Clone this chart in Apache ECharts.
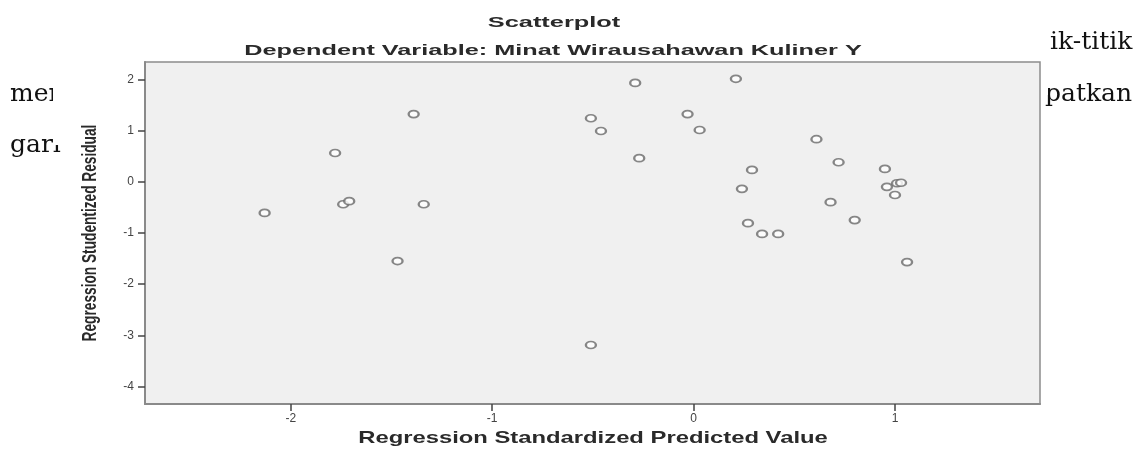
<!DOCTYPE html>
<html>
<head>
<meta charset="utf-8">
<script src="https://cdn.jsdelivr.net/npm/echarts@6/dist/echarts.min.js"></script>
<style>
  html, body { margin: 0; padding: 0; background: #fff; }
  #chart { width: 1148px; height: 449px; }
</style>
</head>
<body>
<div id="chart"></div>
<script>
// Regression Standardized Predicted Value (x) / Regression Studentized Residual (y)
const predicted = [
  -2.13, -1.78, -1.74, -1.71, -1.47, -1.39, -1.34,
  -0.51, -0.51, -0.46, -0.29, -0.27, -0.03, 0.03,
  0.21, 0.24, 0.27, 0.29, 0.34, 0.42, 0.61, 0.68,
  0.72, 0.80, 0.95, 0.96, 1.00, 1.01, 1.03, 1.06,
];
const residual = [
  -0.61, 0.56, -0.44, -0.38, -1.55, 1.32, -0.44,
  1.24, -3.19, 0.99, 1.93, 0.46, 1.32, 1.01,
  2.01, -0.14, -0.81, 0.23, -1.02, -1.02, 0.83, -0.40,
  0.38, -0.75, 0.25, -0.10, -0.26, -0.03, -0.02, -1.57,
];
const xTicks = [-2, -1, 0, 1];
const yTicks = [2, 1, 0, -1, -2, -3, -4];

const chartTitle = "Scatterplot";
const chartSubtitle = "Dependent Variable: Minat Wirausahawan Kuliner Y";
const xName = "Regression Standardized Predicted Value";
const yName = "Regression Studentized Residual";

const points = predicted.map((x, i) => [x, residual[i]]);

const chart = echarts.init(document.getElementById("chart"));

const font = (s) => `bold ${s}px 'Liberation Sans', Arial, sans-serif`;
const bodyFont = "25px 'DejaVu Serif', serif";

const option = {
  animation: false,
  backgroundColor: "#ffffff",
  grid: {
    left: 145,
    right: 108,
    top: 62,
    bottom: 45,
    show: true,
    backgroundColor: "#f0f0f0",
    borderColor: "#8c8c8c",
    borderWidth: 1.5,
  },
  xAxis: {
    type: "value",
    min: -2.724,
    max: 1.72,
    splitLine: { show: false },
    axisLine: { onZero: false, lineStyle: { color: "#8a8a8a", width: 2 } },
    axisTick: { customValues: xTicks, length: 7, lineStyle: { color: "#444", width: 1.5 } },
    axisLabel: { customValues: xTicks, color: "#444", fontSize: 12, margin: 9, fontFamily: "Liberation Sans" },
  },
  yAxis: {
    type: "value",
    min: -4.342,
    max: 2.338,
    splitLine: { show: false },
    axisLine: { onZero: false, lineStyle: { color: "#8a8a8a", width: 2 } },
    axisTick: { customValues: yTicks, length: 7, lineStyle: { color: "#444", width: 1.5 } },
    axisLabel: { customValues: yTicks, color: "#444", fontSize: 12, margin: 11, fontFamily: "Liberation Sans" },
  },
  series: [
    {
      type: "scatter",
      data: points,
      symbol: "emptyCircle",
      symbolSize: [10, 7],
      itemStyle: { color: "#6a6a6a", borderWidth: 2 },
    },
  ],
  graphic: [
    // document text around the pasted chart
    { type: "text", x: 10, y: 82, style: { text: "mer", font: bodyFont, fill: "#111", textVerticalAlign: "alphabetic" } },
    { type: "text", x: 10, y: 133, style: { text: "gari", font: bodyFont, fill: "#111", textVerticalAlign: "alphabetic" } },
    { type: "text", x: 1050, y: 30, style: { text: "ik-titik", font: bodyFont, fill: "#111", textVerticalAlign: "alphabetic" } },
    { type: "text", x: 1045, y: 82, style: { text: "patkan", font: bodyFont, fill: "#111", textVerticalAlign: "alphabetic" } },
    // the pasted image hides part of the words
    { type: "rect", shape: { x: 53, y: 55, width: 22, height: 90 }, style: { fill: "#fff" } },
    { type: "rect", shape: { x: 1042, y: 55, width: 6, height: 40 }, style: { fill: "#fff" } },
    // chart titles (SPSS output is stretched horizontally)
    {
      type: "text", x: 554, y: 23, scaleX: 1.69,
      style: { text: chartTitle, font: font(15), fill: "#2a2a2a", textAlign: "center", textVerticalAlign: "middle" },
    },
    {
      type: "text", x: 553, y: 51, scaleX: 1.63,
      style: { text: chartSubtitle, font: font(15.5), fill: "#2a2a2a", textAlign: "center", textVerticalAlign: "middle" },
    },
    {
      type: "text", x: 593, y: 438, scaleX: 1.4,
      style: { text: xName, font: font(17), fill: "#2a2a2a", textAlign: "center", textVerticalAlign: "middle" },
    },
    {
      type: "text", x: 91, y: 233, rotation: Math.PI / 2, scaleY: 1.45,
      style: { text: yName, font: font(13.7), fill: "#2a2a2a", textAlign: "center", textVerticalAlign: "middle" },
    },
  ],
};

chart.setOption(option);
</script>
</body>
</html>
